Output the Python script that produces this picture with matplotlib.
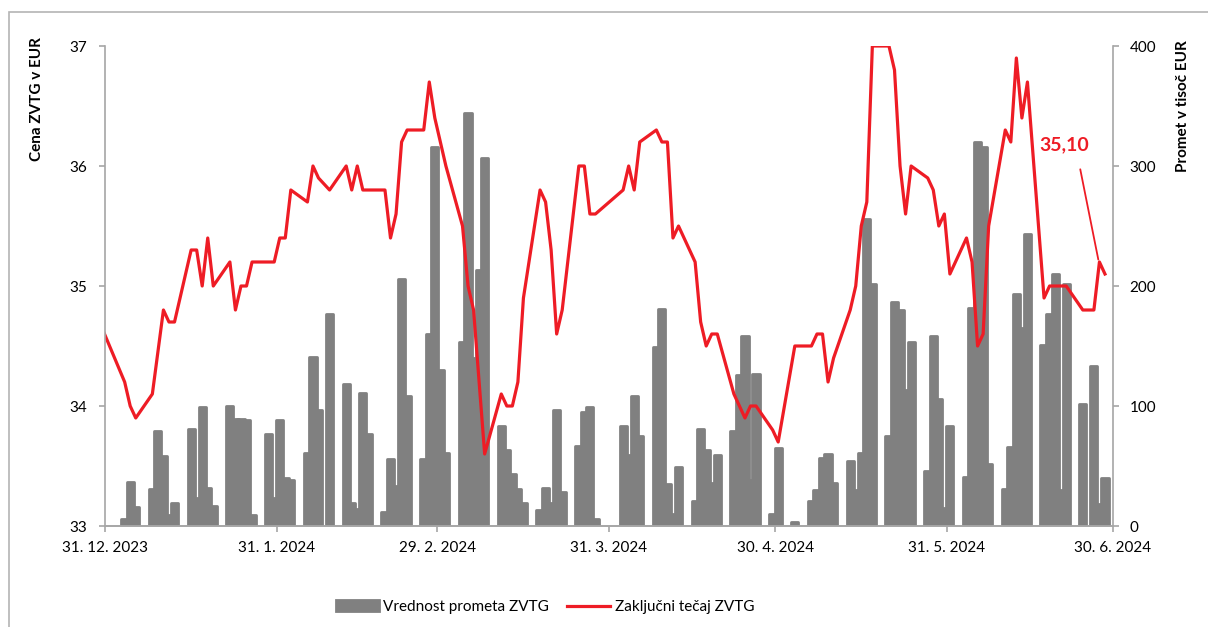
import matplotlib.pyplot as plt
import matplotlib.dates as mdates
import pandas as pd
from matplotlib.patches import Rectangle

plt.rcParams['font.family'] = ['Lato', 'DejaVu Sans']

# closing price (vertices of the line)
price_dates = [
    "2023-12-29", "2024-01-03", "2024-01-04", "2024-01-05", "2024-01-08", "2024-01-10", "2024-01-11",
    "2024-01-12", "2024-01-15", "2024-01-16", "2024-01-17", "2024-01-18", "2024-01-19", "2024-01-22",
    "2024-01-23", "2024-01-24", "2024-01-25", "2024-01-26", "2024-01-30", "2024-01-31", "2024-02-01",
    "2024-02-02", "2024-02-05", "2024-02-06", "2024-02-07", "2024-02-09", "2024-02-12", "2024-02-13",
    "2024-02-14", "2024-02-15", "2024-02-19", "2024-02-20", "2024-02-21", "2024-02-22", "2024-02-23",
    "2024-02-26", "2024-02-27", "2024-02-28", "2024-03-01", "2024-03-04", "2024-03-05", "2024-03-06",
    "2024-03-08", "2024-03-11", "2024-03-12", "2024-03-13", "2024-03-14", "2024-03-15", "2024-03-18",
    "2024-03-19", "2024-03-20", "2024-03-21", "2024-03-22", "2024-03-25", "2024-03-26", "2024-03-27",
    "2024-03-28", "2024-04-02", "2024-04-03", "2024-04-04", "2024-04-05", "2024-04-08", "2024-04-09",
    "2024-04-10", "2024-04-11", "2024-04-12", "2024-04-15", "2024-04-16", "2024-04-17", "2024-04-18",
    "2024-04-19", "2024-04-22", "2024-04-24", "2024-04-25", "2024-04-26", "2024-04-29", "2024-04-30",
    "2024-05-03", "2024-05-06", "2024-05-07", "2024-05-08", "2024-05-09", "2024-05-10", "2024-05-13",
    "2024-05-14", "2024-05-15", "2024-05-16", "2024-05-17", "2024-05-20", "2024-05-21", "2024-05-22",
    "2024-05-23", "2024-05-24", "2024-05-27", "2024-05-28", "2024-05-29", "2024-05-30", "2024-05-31",
    "2024-06-03", "2024-06-04", "2024-06-05", "2024-06-06", "2024-06-07", "2024-06-10", "2024-06-11",
    "2024-06-12", "2024-06-13", "2024-06-14", "2024-06-17", "2024-06-18", "2024-06-21", "2024-06-24",
    "2024-06-26", "2024-06-27", "2024-06-28",
]
price = [
    34.75, 34.20, 34.00, 33.90, 34.10, 34.80, 34.70,
    34.70, 35.30, 35.30, 35.00, 35.40, 35.00, 35.20,
    34.80, 35.00, 35.00, 35.20, 35.20, 35.40, 35.40,
    35.80, 35.70, 36.00, 35.90, 35.80, 36.00, 35.80,
    36.00, 35.80, 35.80, 35.40, 35.60, 36.20, 36.30,
    36.30, 36.70, 36.40, 36.00, 35.50, 35.00, 34.80,
    33.60, 34.10, 34.00, 34.00, 34.20, 34.90, 35.80,
    35.70, 35.30, 34.60, 34.80, 36.00, 36.00, 35.60,
    35.60, 35.80, 36.00, 35.80, 36.20, 36.30, 36.20,
    36.20, 35.40, 35.50, 35.20, 34.70, 34.50, 34.60,
    34.60, 34.10, 33.90, 34.00, 34.00, 33.80, 33.70,
    34.50, 34.50, 34.60, 34.60, 34.20, 34.40, 34.80,
    35.00, 35.50, 35.70, 37.00, 37.00, 36.80, 36.00,
    35.60, 36.00, 35.90, 35.80, 35.50, 35.60, 35.10,
    35.40, 35.20, 34.50, 34.60, 35.50, 36.30, 36.20,
    36.90, 36.40, 36.70, 34.90, 35.00, 35.00, 34.80,
    34.80, 35.20, 35.10,
]

# turnover in thousand EUR
vol_dates = [
    "2024-01-03", "2024-01-04", "2024-01-05", "2024-01-08", "2024-01-09", "2024-01-10", "2024-01-11",
    "2024-01-12", "2024-01-15", "2024-01-16", "2024-01-17", "2024-01-18", "2024-01-19", "2024-01-22",
    "2024-01-23", "2024-01-24", "2024-01-25", "2024-01-26", "2024-01-29", "2024-01-30", "2024-01-31",
    "2024-02-01", "2024-02-02", "2024-02-05", "2024-02-06", "2024-02-07", "2024-02-09", "2024-02-12",
    "2024-02-13", "2024-02-14", "2024-02-15", "2024-02-16", "2024-02-19", "2024-02-20", "2024-02-21",
    "2024-02-22", "2024-02-23", "2024-02-26", "2024-02-27", "2024-02-28", "2024-02-29", "2024-03-01",
    "2024-03-04", "2024-03-05", "2024-03-06", "2024-03-07", "2024-03-08", "2024-03-11", "2024-03-12",
    "2024-03-13", "2024-03-14", "2024-03-15", "2024-03-18", "2024-03-19", "2024-03-20", "2024-03-21",
    "2024-03-22", "2024-03-25", "2024-03-26", "2024-03-27", "2024-03-28", "2024-04-02", "2024-04-03",
    "2024-04-04", "2024-04-05", "2024-04-08", "2024-04-09", "2024-04-10", "2024-04-11", "2024-04-12",
    "2024-04-15", "2024-04-16", "2024-04-17", "2024-04-18", "2024-04-19", "2024-04-22", "2024-04-23",
    "2024-04-24", "2024-04-25", "2024-04-26", "2024-04-29", "2024-04-30", "2024-05-03", "2024-05-06",
    "2024-05-07", "2024-05-08", "2024-05-09", "2024-05-10", "2024-05-13", "2024-05-14", "2024-05-15",
    "2024-05-16", "2024-05-17", "2024-05-20", "2024-05-21", "2024-05-22", "2024-05-23", "2024-05-24",
    "2024-05-27", "2024-05-28", "2024-05-29", "2024-05-30", "2024-05-31", "2024-06-03", "2024-06-04",
    "2024-06-05", "2024-06-06", "2024-06-07", "2024-06-10", "2024-06-11", "2024-06-12", "2024-06-13",
    "2024-06-14", "2024-06-17", "2024-06-18", "2024-06-19", "2024-06-20", "2024-06-21", "2024-06-24",
    "2024-06-26", "2024-06-27", "2024-06-28",
]
volume = [
    6, 37, 16, 31, 79, 58, 9,
    19, 81, 23, 99, 32, 17, 100,
    89, 89, 88, 9, 77, 23, 88,
    40, 38, 61, 141, 97, 177, 118,
    19, 14, 111, 77, 12, 56, 33,
    206, 108, 56, 160, 316, 130, 61,
    153, 344, 140, 213, 307, 83, 63,
    43, 31, 19, 13, 32, 19, 97,
    28, 67, 95, 99, 6, 83, 59,
    108, 75, 149, 181, 35, 10, 49,
    21, 81, 63, 36, 59, 79, 126,
    158, 38, 127, 10, 65, 3, 21,
    30, 57, 60, 36, 54, 30, 61,
    256, 202, 75, 187, 180, 113, 153,
    46, 158, 106, 15, 83, 41, 182,
    320, 316, 52, 31, 66, 193, 165,
    243, 151, 177, 210, 30, 202, 102,
    133, 18, 40,
]

tick_dates = ["2023-12-31", "2024-01-31", "2024-02-29", "2024-03-31", "2024-04-30", "2024-05-31", "2024-06-30"]
tick_labels = ["31. 12. 2023", "31. 1. 2024", "29. 2. 2024", "31. 3. 2024", "30. 4. 2024", "31. 5. 2024", "30. 6. 2024"]

RED = '#ee1c25'
GREY = '#808080'
AXIS = '#a6a6a6'


def to_x(dates):
    # values sit in the middle of each day slot
    return mdates.date2num(pd.to_datetime(dates)) + 0.55


fig = plt.figure(figsize=(12.08, 6.27), dpi=100)
ax = fig.add_axes([105 / 1208, 1 - 526 / 627, (1113 - 105) / 1208, (526 - 46) / 627])
ax2 = ax.twinx()

ax2.bar(to_x(vol_dates), volume, width=1.3, color=GREY, edgecolor=GREY,
        linewidth=2.0, joinstyle='round', label='Vrednost prometa ZVTG')
ax.plot(to_x(price_dates), price, color=RED, linewidth=2.3, label='Zaključni tečaj ZVTG')

ax.set_zorder(ax2.get_zorder() + 1)
ax.patch.set_visible(False)

xmin, xmax = mdates.date2num(pd.to_datetime([tick_dates[0], tick_dates[-1]]))
ax.set_xlim(xmin, xmax)
ax.set_ylim(33, 37)
ax2.set_ylim(0, 400)
ax.set_yticks([33, 34, 35, 36, 37])
ax2.set_yticks([0, 100, 200, 300, 400])
ax.set_xticks(mdates.date2num(pd.to_datetime(tick_dates)))
ax.set_xticklabels(tick_labels)

for a in (ax, ax2):
    a.spines['top'].set_visible(False)
    for s in ('left', 'right', 'bottom'):
        a.spines[s].set_color(AXIS)
        a.spines[s].set_linewidth(1.2)
    a.tick_params(colors=AXIS, labelcolor='black', labelsize=11, length=4, width=1.2)
ax.spines['right'].set_visible(False)
ax2.spines['left'].set_visible(False)
ax.tick_params(axis='y', pad=9)
ax.tick_params(axis='x', pad=7)
ax2.tick_params(axis='y', pad=8)

ax.annotate('35,10', xy=(to_x(["2024-06-27"])[0] - 0.2, 35.22),
            xytext=(to_x(["2024-06-21"])[0] - 0.3, 36.18),
            ha='center', va='center', color=RED, fontsize=14, fontweight='bold',
            arrowprops=dict(arrowstyle='-', color=RED, lw=1.3, relpos=(0.75, 0), shrinkA=10, shrinkB=0))

fig.text(37 / 1208, 1 - 37 / 627, 'Cena ZVTG v EUR', rotation=90, ha='center', va='top',
         fontsize=11, fontweight='bold')
fig.text(1183 / 1208, 1 - 40 / 627, 'Promet v tisoč EUR', rotation=90, ha='center', va='top',
         fontsize=11, fontweight='bold')

h1, l1 = ax2.get_legend_handles_labels()
h2, l2 = ax.get_legend_handles_labels()
fig.legend(h1 + h2, l1 + l2, loc='center', bbox_to_anchor=(545 / 1208, 1 - 607 / 627),
           ncol=2, frameon=False, fontsize=11, handlelength=2.8, handletextpad=0.3,
           columnspacing=1.2)

fig.add_artist(Rectangle((9 / 1208, -0.05), 1.2, 1.05 - 12 / 627, transform=fig.transFigure,
                         fill=False, edgecolor='#b4b4b4', linewidth=1.2))

fig.savefig('out.png', dpi=100)
